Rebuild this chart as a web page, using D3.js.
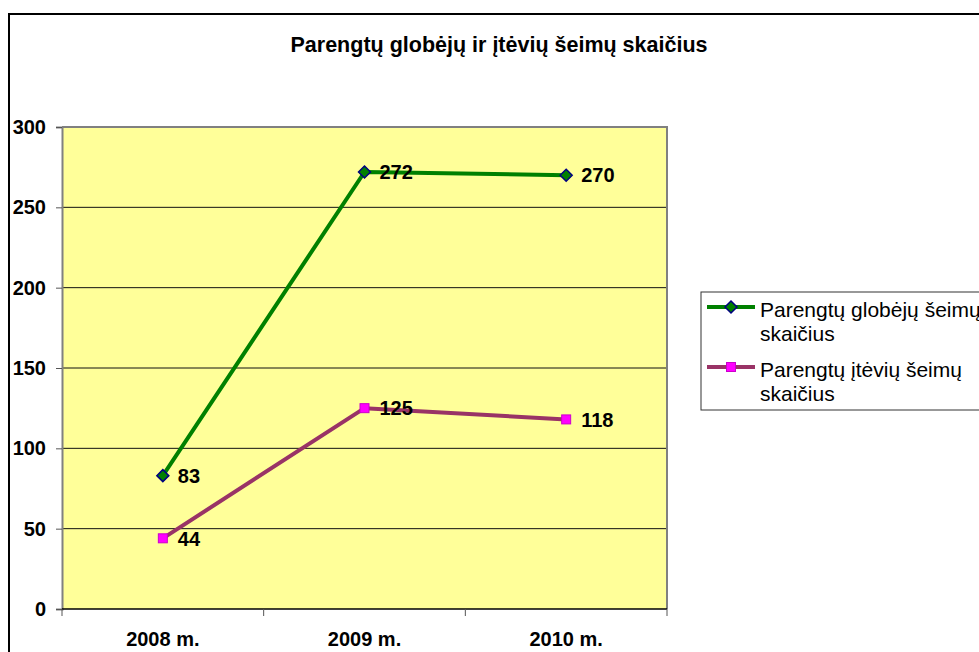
<!DOCTYPE html>
<html>
<head>
<meta charset="utf-8">
<script src="https://cdn.jsdelivr.net/npm/d3@7"></script>
<style>
  body { margin: 0; background: #fff; }
  svg { display: block; font-family: "Liberation Sans", Arial, sans-serif; }
</style>
</head>
<body>
<svg id="chart" width="979" height="652"></svg>
<script>
var categories = ["2008 m.", "2009 m.", "2010 m."];
var globejai = [83, 272, 270];
var teviai = [44, 125, 118];
var yTicks = [0, 50, 100, 150, 200, 250, 300];
var seriesNames = ["Parengtų globėjų šeimų skaičius", "Parengtų įtėvių šeimų skaičius"];
var titleText = "Parengtų globėjų ir įtėvių šeimų skaičius";

var svg = d3.select("#chart");

// outer chart border (right / bottom edges are off-screen)
svg.append("path")
  .attr("d", "M9,660 L9,14 L990,14")
  .attr("fill", "none")
  .attr("stroke", "#000")
  .attr("stroke-width", 2);

svg.append("text")
  .attr("x", 499).attr("y", 52)
  .attr("text-anchor", "middle")
  .attr("font-weight", "bold")
  .attr("font-size", 21.5)
  .text(titleText);

var plot = { left: 62, top: 127, right: 667, bottom: 609 };

var x = d3.scaleBand().domain(categories).range([plot.left, plot.right]);
var y = d3.scaleLinear().domain([0, 300]).range([plot.bottom, plot.top]);

svg.append("rect")
  .attr("x", plot.left).attr("y", plot.top)
  .attr("width", plot.right - plot.left).attr("height", plot.bottom - plot.top)
  .attr("fill", "#FFFF99");

// gridlines
svg.append("g").selectAll("line")
  .data(yTicks.filter(function(d) { return d > 0 && d < 300; }))
  .enter().append("line")
  .attr("x1", plot.left).attr("x2", plot.right)
  .attr("y1", function(d) { return y(d); })
  .attr("y2", function(d) { return y(d); })
  .attr("stroke", "#111").attr("stroke-width", 1);

// plot border top/right
svg.append("path")
  .attr("d", "M" + plot.left + "," + plot.top + " L" + plot.right + "," + plot.top + " L" + plot.right + "," + plot.bottom)
  .attr("fill", "none").attr("stroke", "#808080").attr("stroke-width", 2);

// y axis
var yAxis = svg.append("g")
  .attr("transform", "translate(" + plot.left + ",0)")
  .call(d3.axisLeft(y).tickValues(yTicks).tickSize(6).tickPadding(10));
yAxis.select(".domain").attr("stroke", "#808080").attr("stroke-width", 2);
yAxis.selectAll(".tick line").attr("stroke", "#555");
yAxis.selectAll(".tick text")
  .attr("font-family", "Liberation Sans, Arial, sans-serif")
  .attr("font-size", 20).attr("font-weight", "bold").attr("fill", "#000");

// x axis line and tick marks between categories
svg.append("line")
  .attr("x1", plot.left).attr("x2", plot.right)
  .attr("y1", plot.bottom).attr("y2", plot.bottom)
  .attr("stroke", "#000").attr("stroke-width", 1.5);

var bounds = categories.map(function(c) { return x(c); }).concat([plot.right]);
svg.append("g").selectAll("line")
  .data(bounds)
  .enter().append("line")
  .attr("x1", function(d) { return d; }).attr("x2", function(d) { return d; })
  .attr("y1", plot.bottom).attr("y2", plot.bottom + 7)
  .attr("stroke", "#555");

svg.append("g").selectAll("text")
  .data(categories)
  .enter().append("text")
  .attr("x", function(d) { return x(d) + x.bandwidth() / 2; })
  .attr("y", 646)
  .attr("text-anchor", "middle")
  .attr("font-size", 20).attr("font-weight", "bold")
  .text(function(d) { return d; });

var line = d3.line()
  .x(function(d, i) { return x(categories[i]) + x.bandwidth() / 2; })
  .y(function(d) { return y(d); });

var series = [
  { name: seriesNames[0], values: globejai, color: "#008000", marker: "diamond", mFill: "#008000", mStroke: "#000080" },
  { name: seriesNames[1], values: teviai, color: "#993366", marker: "square", mFill: "#FF00FF", mStroke: "#CC00CC" }
];

function drawMarker(g, s, cx, cy) {
  if (s.marker == "diamond") {
    g.append("path")
      .attr("d", "M" + cx + "," + (cy - 6) + " L" + (cx + 6) + "," + cy + " L" + cx + "," + (cy + 6) + " L" + (cx - 6) + "," + cy + " Z")
      .attr("fill", s.mFill).attr("stroke", s.mStroke).attr("stroke-width", 1.5);
  } else {
    g.append("rect")
      .attr("x", cx - 4.5).attr("y", cy - 4.5).attr("width", 9).attr("height", 9)
      .attr("fill", s.mFill).attr("stroke", s.mStroke).attr("stroke-width", 1);
  }
}

series.forEach(function(s) {
  var g = svg.append("g");
  g.append("path")
    .datum(s.values)
    .attr("d", line)
    .attr("fill", "none")
    .attr("stroke", s.color)
    .attr("stroke-width", 4)
    .attr("stroke-linejoin", "round");
  s.values.forEach(function(v, i) {
    var cx = x(categories[i]) + x.bandwidth() / 2;
    drawMarker(g, s, cx, y(v));
  });
  s.values.forEach(function(v, i) {
    var cx = x(categories[i]) + x.bandwidth() / 2;
    g.append("text")
      .attr("x", cx + 15).attr("y", y(v))
      .attr("dy", "0.36em")
      .attr("font-size", 20).attr("font-weight", "bold")
      .text(v);
  });
});

// legend
var legend = svg.append("g");
legend.append("rect")
  .attr("x", 701).attr("y", 292).attr("width", 300).attr("height", 118)
  .attr("fill", "#fff").attr("stroke", "#333").attr("stroke-width", 1);

var legendRows = [
  { lines: ["Parengtų globėjų šeimų", "skaičius"], y: 307 },
  { lines: ["Parengtų įtėvių šeimų", "skaičius"], y: 367 }
];

series.forEach(function(s, i) {
  var ly = legendRows[i].y;
  legend.append("line")
    .attr("x1", 707).attr("x2", 755)
    .attr("y1", ly).attr("y2", ly)
    .attr("stroke", s.color).attr("stroke-width", 4);
  drawMarker(legend, s, 731, ly);
  legendRows[i].lines.forEach(function(t, k) {
    legend.append("text")
      .attr("x", 760).attr("y", ly + 10 + k * 24)
      .attr("font-size", 21)
      .text(t);
  });
});
</script>
</body>
</html>
